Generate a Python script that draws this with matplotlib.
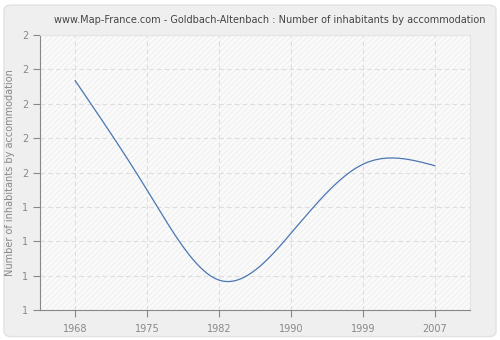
import numpy as np
import matplotlib
matplotlib.use("Agg")
import matplotlib.pyplot as plt
from matplotlib.patches import FancyBboxPatch, Rectangle

years = ["1968", "1975", "1982", "1990", "1999", "2007"]
values = [1.834, 1.436, 1.109, 1.279, 1.530, 1.525]
y_ticks = [1.0, 1.125, 1.25, 1.375, 1.5, 1.625, 1.75, 1.875, 2.0]


def natural_spline(x, y, n=300):
    # plain natural cubic spline, just for a smooth line through the points
    x = np.asarray(x, float); y = np.asarray(y, float)
    k = len(x)
    h = np.diff(x)
    A = np.zeros((k, k)); b = np.zeros(k)
    A[0, 0] = A[-1, -1] = 1.0
    for i in range(1, k - 1):
        A[i, i - 1] = h[i - 1]
        A[i, i] = 2 * (h[i - 1] + h[i])
        A[i, i + 1] = h[i]
        b[i] = 6 * ((y[i + 1] - y[i]) / h[i] - (y[i] - y[i - 1]) / h[i - 1])
    M = np.linalg.solve(A, b)
    xs = np.linspace(x[0], x[-1], n)
    idx = np.clip(np.searchsorted(x, xs) - 1, 0, k - 2)
    x0, x1 = x[idx], x[idx + 1]
    hh = x1 - x0
    t0, t1 = x1 - xs, xs - x0
    ys = (M[idx] * t0**3 + M[idx + 1] * t1**3) / (6 * hh) \
        + (y[idx] / hh - M[idx] * hh / 6) * t0 \
        + (y[idx + 1] / hh - M[idx + 1] * hh / 6) * t1
    return xs, ys


plt.rcParams["hatch.linewidth"] = 0.5

fig = plt.figure(figsize=(5.0, 3.4), dpi=100)
fig.patch.set_facecolor("white")
fig.patches.append(FancyBboxPatch(
    (0.008, 0.01), 0.984, 0.975,
    boxstyle="round,pad=0,rounding_size=0.015",
    transform=fig.transFigure, facecolor="#efefef",
    edgecolor="#e2e2e2", linewidth=1.0, zorder=-5))

ax = fig.add_axes([0.08, 0.088, 0.86, 0.809])
ax.set_facecolor("#fafafa")
# faint diagonal hatching on the plot area
ax.add_patch(Rectangle((0, 0), 1, 1, transform=ax.transAxes,
                       facecolor="none", edgecolor="#ebebeb",
                       hatch="//////", linewidth=0, zorder=0.5))

pos = np.arange(len(years))
xs, ys = natural_spline(pos, values)
ax.plot(xs, ys, color="#4a77b0", linewidth=0.9, zorder=3)

ax.set_xlim(-0.49, len(years) - 1 + 0.49)
ax.set_ylim(1.0, 2.0)
ax.set_xticks(pos)
ax.set_xticklabels(years)
ax.set_yticks(y_ticks)
ax.set_yticklabels([f"{v:.0f}" if v != 1.5 else "2" for v in y_ticks])

ax.grid(True, color="#dddddd", linestyle=(0, (4, 3)), linewidth=0.8, zorder=1)
ax.set_axisbelow(True)
ax.tick_params(colors="#888888", labelcolor="#888888", labelsize=7, length=5, width=0.8)
ax.tick_params(axis="x", pad=5)
for side in ("left", "bottom"):
    ax.spines[side].set_color("#888888")
for side in ("top", "right"):
    ax.spines[side].set_color("#e4e4e4")

ax.set_ylabel("Number of inhabitants by accommodation", fontsize=7,
              color="#888888", labelpad=5)
ax.set_title("www.Map-France.com - Goldbach-Altenbach : Number of inhabitants by accommodation",
             fontsize=7, color="#444444", pad=9, x=0.535)

fig.savefig("out.png", dpi=100, facecolor=fig.get_facecolor())
